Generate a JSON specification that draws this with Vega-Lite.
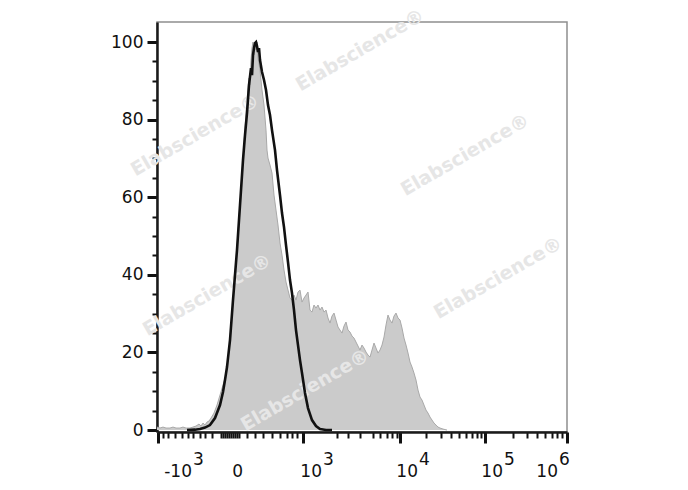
{
  "$schema": "https://vega.github.io/schema/vega-lite/v6.json",
  "width": 410,
  "height": 410,
  "autosize": "none",
  "padding": {"left": 157, "top": 22, "right": 121, "bottom": 58},
  "background": "white",
  "config": {
    "view": {"stroke": "#8f8f8f", "strokeWidth": 1.5},
    "axis": {"domainColor": "#1a1a1a", "domainWidth": 2.5, "tickColor": "#111", "grid": false, "labelFont": "DejaVu Sans", "labelFontSize": 17, "labelColor": "#111"}
  },
  "datasets": {
    "grey": [
      {"x": 0, "y": 0.77}, {"x": 3, "y": 0.52}, {"x": 6, "y": 0.77}, {"x": 9, "y": 0.52}, {"x": 13, "y": 0.52},
      {"x": 16, "y": 0.77}, {"x": 19, "y": 0.52}, {"x": 23, "y": 0.52}, {"x": 26, "y": 0.77}, {"x": 29, "y": 0.52},
      {"x": 33, "y": 0.52}, {"x": 36, "y": 0.77}, {"x": 39, "y": 1.03}, {"x": 42, "y": 1.55}, {"x": 44, "y": 1.03},
      {"x": 46, "y": 1.8}, {"x": 48, "y": 1.29}, {"x": 50, "y": 2.06}, {"x": 52, "y": 2.32}, {"x": 54, "y": 3.09},
      {"x": 57, "y": 4.38}, {"x": 60, "y": 6.44}, {"x": 63, "y": 9.02}, {"x": 66, "y": 11.6}, {"x": 69, "y": 14.18},
      {"x": 72, "y": 20.62}, {"x": 75, "y": 29.64}, {"x": 78, "y": 39.95}, {"x": 81, "y": 51.03}, {"x": 84, "y": 61.86},
      {"x": 86, "y": 69.59}, {"x": 88, "y": 77.84}, {"x": 90, "y": 85.05}, {"x": 92, "y": 90.72}, {"x": 93, "y": 88.92},
      {"x": 94, "y": 95.36}, {"x": 95, "y": 98.45}, {"x": 96, "y": 100.0}, {"x": 97, "y": 96.65}, {"x": 98, "y": 100.0},
      {"x": 99, "y": 97.94}, {"x": 100, "y": 100.0}, {"x": 101, "y": 95.88}, {"x": 103, "y": 92.78}, {"x": 105, "y": 87.63},
      {"x": 107, "y": 83.76}, {"x": 109, "y": 77.32}, {"x": 110, "y": 72.16}, {"x": 111, "y": 70.1}, {"x": 113, "y": 68.3},
      {"x": 115, "y": 66.24}, {"x": 117, "y": 60.57}, {"x": 119, "y": 56.7}, {"x": 121, "y": 52.84}, {"x": 123, "y": 48.2},
      {"x": 125, "y": 45.1}, {"x": 127, "y": 41.24}, {"x": 129, "y": 38.14}, {"x": 131, "y": 36.08}, {"x": 133, "y": 34.02},
      {"x": 135, "y": 33.51}, {"x": 137, "y": 34.79}, {"x": 139, "y": 33.51}, {"x": 141, "y": 35.57}, {"x": 143, "y": 36.08},
      {"x": 145, "y": 32.99}, {"x": 147, "y": 34.02}, {"x": 149, "y": 34.79}, {"x": 151, "y": 35.57}, {"x": 153, "y": 30.93},
      {"x": 155, "y": 30.41}, {"x": 157, "y": 32.22}, {"x": 159, "y": 31.44}, {"x": 161, "y": 32.22}, {"x": 163, "y": 30.93},
      {"x": 165, "y": 31.7}, {"x": 167, "y": 30.41}, {"x": 169, "y": 30.93}, {"x": 171, "y": 28.87}, {"x": 173, "y": 27.58},
      {"x": 175, "y": 29.38}, {"x": 177, "y": 30.15}, {"x": 179, "y": 28.35}, {"x": 181, "y": 26.55}, {"x": 183, "y": 25.77},
      {"x": 185, "y": 25.0}, {"x": 187, "y": 26.8}, {"x": 189, "y": 27.84}, {"x": 191, "y": 25.77}, {"x": 193, "y": 25.26},
      {"x": 195, "y": 24.23}, {"x": 197, "y": 23.71}, {"x": 199, "y": 22.68}, {"x": 201, "y": 21.65}, {"x": 203, "y": 20.62},
      {"x": 205, "y": 21.91}, {"x": 207, "y": 21.13}, {"x": 209, "y": 20.1}, {"x": 211, "y": 19.33}, {"x": 213, "y": 18.81},
      {"x": 215, "y": 20.62}, {"x": 217, "y": 22.42}, {"x": 219, "y": 21.13}, {"x": 221, "y": 19.85}, {"x": 223, "y": 20.62},
      {"x": 225, "y": 21.91}, {"x": 227, "y": 23.97}, {"x": 229, "y": 27.06}, {"x": 231, "y": 29.64}, {"x": 233, "y": 28.35},
      {"x": 235, "y": 27.58}, {"x": 237, "y": 29.38}, {"x": 239, "y": 30.15}, {"x": 241, "y": 28.87}, {"x": 243, "y": 28.35},
      {"x": 245, "y": 26.29}, {"x": 247, "y": 23.71}, {"x": 249, "y": 21.91}, {"x": 251, "y": 19.85}, {"x": 253, "y": 17.53},
      {"x": 255, "y": 16.24}, {"x": 257, "y": 14.69}, {"x": 259, "y": 12.89}, {"x": 261, "y": 10.31}, {"x": 263, "y": 8.51},
      {"x": 265, "y": 7.73}, {"x": 267, "y": 6.44}, {"x": 269, "y": 5.15}, {"x": 271, "y": 4.38}, {"x": 273, "y": 3.35},
      {"x": 275, "y": 2.58}, {"x": 277, "y": 1.8}, {"x": 279, "y": 1.29}, {"x": 281, "y": 0.77}, {"x": 283, "y": 0.52},
      {"x": 286, "y": 0.26}, {"x": 290, "y": 0.0}
    ],
    "black": [
      {"x": 30, "y": 0}, {"x": 38, "y": 0.1}, {"x": 43, "y": 0.26}, {"x": 48, "y": 0.64}, {"x": 53, "y": 1.29},
      {"x": 58, "y": 3.09}, {"x": 63, "y": 6.44}, {"x": 66, "y": 9.79}, {"x": 68, "y": 12.89}, {"x": 70, "y": 16.24},
      {"x": 73, "y": 23.2}, {"x": 76, "y": 33.51}, {"x": 78, "y": 39.95}, {"x": 80, "y": 46.39}, {"x": 83, "y": 57.99},
      {"x": 86, "y": 69.59}, {"x": 88, "y": 76.03}, {"x": 90, "y": 81.7}, {"x": 92, "y": 88.92}, {"x": 94, "y": 93.3},
      {"x": 95, "y": 91.49}, {"x": 96, "y": 96.65}, {"x": 97, "y": 98.45}, {"x": 98, "y": 99.74}, {"x": 99, "y": 100.0},
      {"x": 100, "y": 98.97}, {"x": 101, "y": 97.42}, {"x": 102, "y": 98.45}, {"x": 103, "y": 95.36}, {"x": 105, "y": 92.27},
      {"x": 107, "y": 90.21}, {"x": 109, "y": 87.63}, {"x": 111, "y": 83.76}, {"x": 113, "y": 81.19}, {"x": 115, "y": 77.32},
      {"x": 118, "y": 72.16}, {"x": 120, "y": 67.01}, {"x": 123, "y": 60.57}, {"x": 125, "y": 55.93}, {"x": 127, "y": 52.32},
      {"x": 129, "y": 47.68}, {"x": 131, "y": 43.3}, {"x": 133, "y": 38.66}, {"x": 135, "y": 35.31}, {"x": 137, "y": 30.93},
      {"x": 139, "y": 25.77}, {"x": 141, "y": 21.91}, {"x": 143, "y": 18.04}, {"x": 145, "y": 14.69}, {"x": 148, "y": 9.54},
      {"x": 151, "y": 5.67}, {"x": 155, "y": 2.58}, {"x": 159, "y": 1.03}, {"x": 163, "y": 0.26}, {"x": 169, "y": 0},
      {"x": 175, "y": 0}
    ],
    "watermark": [
      {"x": 203, "y": 97.9, "t": "Elabscience®"},
      {"x": 38, "y": 76.0, "t": "Elabscience®"},
      {"x": 308, "y": 70.9, "t": "Elabscience®"},
      {"x": 50, "y": 34.8, "t": "Elabscience®"},
      {"x": 341, "y": 39.2, "t": "Elabscience®"},
      {"x": 148, "y": 10.3, "t": "Elabscience®"}
    ],
    "xlabels": [
      {"x": 35, "base": "-10", "exp": "3"},
      {"x": 86, "base": "0", "exp": ""},
      {"x": 165, "base": "10", "exp": "3"},
      {"x": 261, "base": "10", "exp": "4"},
      {"x": 346, "base": "10", "exp": "5"},
      {"x": 401, "base": "10", "exp": "6"}
    ]
  },
  "encoding": {
    "x": {
      "field": "x", "type": "quantitative",
      "scale": {"domain": [0, 410], "nice": false, "zero": false},
      "axis": {
        "title": null, "labels": false,
        "values": [1, 6, 11, 18, 25, 31, 36, 43, 48, 55, 64, 66, 68, 70, 72, 74, 76, 78, 80, 82, 90, 98, 106, 115, 123, 130, 135, 140, 146, 180, 191, 203, 216, 223, 230, 235, 240, 243, 269, 284, 294, 302, 309, 315, 320, 324, 328, 356, 370, 380, 388, 395, 400, 405, 410],
        "tickSize": {"condition": {"test": "indexof([1, 146, 243, 328, 410], datum.value) >= 0", "value": 11}, "value": 6},
        "tickWidth": {"condition": {"test": "indexof([1, 146, 243, 328, 410], datum.value) >= 0", "value": 3}, "value": 2}
      }
    }
  },
  "layer": [
    {
      "data": {"name": "grey"},
      "mark": {"type": "area", "color": "#cbcbcb", "opacity": 1, "fillOpacity": 1, "interpolate": "linear", "line": {"color": "#a9a9a9", "strokeWidth": 1}},
      "encoding": {
        "y": {
          "field": "y", "type": "quantitative",
          "scale": {"domain": [-0.5, 105.17], "nice": false, "zero": false},
          "axis": {
            "title": null,
            "values": [0, 5, 10, 15, 20, 25, 30, 35, 40, 45, 50, 55, 60, 65, 70, 75, 80, 85, 90, 95, 100],
            "labelExpr": "datum.value % 20 == 0 ? datum.label : ''",
            "labelPadding": 4,
            "tickSize": {"condition": {"test": "datum.value % 20 == 0", "value": 10}, "value": 5},
            "tickWidth": {"condition": {"test": "datum.value % 20 == 0", "value": 3}, "value": 2}
          }
        }
      }
    },
    {
      "data": {"name": "watermark"},
      "mark": {"type": "text", "angle": -30, "font": "DejaVu Sans", "fontWeight": "bold", "fontSize": 19, "color": "#e6e6e6", "align": "center", "baseline": "middle"},
      "encoding": {
        "y": {
          "field": "y", "type": "quantitative",
          "scale": {"domain": [-0.5, 105.17], "nice": false, "zero": false},
          "axis": {
            "title": null,
            "values": [0, 5, 10, 15, 20, 25, 30, 35, 40, 45, 50, 55, 60, 65, 70, 75, 80, 85, 90, 95, 100],
            "labelExpr": "datum.value % 20 == 0 ? datum.label : ''",
            "labelPadding": 4,
            "tickSize": {"condition": {"test": "datum.value % 20 == 0", "value": 10}, "value": 5},
            "tickWidth": {"condition": {"test": "datum.value % 20 == 0", "value": 3}, "value": 2}
          }
        },
        "text": {"field": "t"}
      }
    },
    {
      "data": {"name": "black"},
      "mark": {"type": "line", "color": "#111111", "strokeWidth": 2.6, "interpolate": "linear"},
      "encoding": {
        "y": {
          "field": "y", "type": "quantitative",
          "scale": {"domain": [-0.5, 105.17], "nice": false, "zero": false},
          "axis": {
            "title": null,
            "values": [0, 5, 10, 15, 20, 25, 30, 35, 40, 45, 50, 55, 60, 65, 70, 75, 80, 85, 90, 95, 100],
            "labelExpr": "datum.value % 20 == 0 ? datum.label : ''",
            "labelPadding": 4,
            "tickSize": {"condition": {"test": "datum.value % 20 == 0", "value": 10}, "value": 5},
            "tickWidth": {"condition": {"test": "datum.value % 20 == 0", "value": 3}, "value": 2}
          }
        }
      }
    },
    {
      "data": {"name": "xlabels"},
      "mark": {"type": "text", "font": "DejaVu Sans", "fontSize": 17, "color": "#111", "align": "right", "baseline": "alphabetic", "dy": 45},
      "encoding": {
        "y": {
          "datum": -0.5, "type": "quantitative",
          "scale": {"domain": [-0.5, 105.17], "nice": false, "zero": false},
          "axis": {
            "title": null,
            "values": [0, 5, 10, 15, 20, 25, 30, 35, 40, 45, 50, 55, 60, 65, 70, 75, 80, 85, 90, 95, 100],
            "labelExpr": "datum.value % 20 == 0 ? datum.label : ''",
            "labelPadding": 4,
            "tickSize": {"condition": {"test": "datum.value % 20 == 0", "value": 10}, "value": 5},
            "tickWidth": {"condition": {"test": "datum.value % 20 == 0", "value": 3}, "value": 2}
          }
        },
        "text": {"field": "base", "type": "nominal"}
      }
    },
    {
      "data": {"name": "xlabels"},
      "mark": {"type": "text", "font": "DejaVu Sans", "fontSize": 17, "color": "#111", "align": "left", "baseline": "alphabetic", "dx": 1, "dy": 33},
      "encoding": {
        "y": {
          "datum": -0.5, "type": "quantitative",
          "scale": {"domain": [-0.5, 105.17], "nice": false, "zero": false},
          "axis": {
            "title": null,
            "values": [0, 5, 10, 15, 20, 25, 30, 35, 40, 45, 50, 55, 60, 65, 70, 75, 80, 85, 90, 95, 100],
            "labelExpr": "datum.value % 20 == 0 ? datum.label : ''",
            "labelPadding": 4,
            "tickSize": {"condition": {"test": "datum.value % 20 == 0", "value": 10}, "value": 5},
            "tickWidth": {"condition": {"test": "datum.value % 20 == 0", "value": 3}, "value": 2}
          }
        },
        "text": {"field": "exp", "type": "nominal"}
      }
    }
  ]
}
